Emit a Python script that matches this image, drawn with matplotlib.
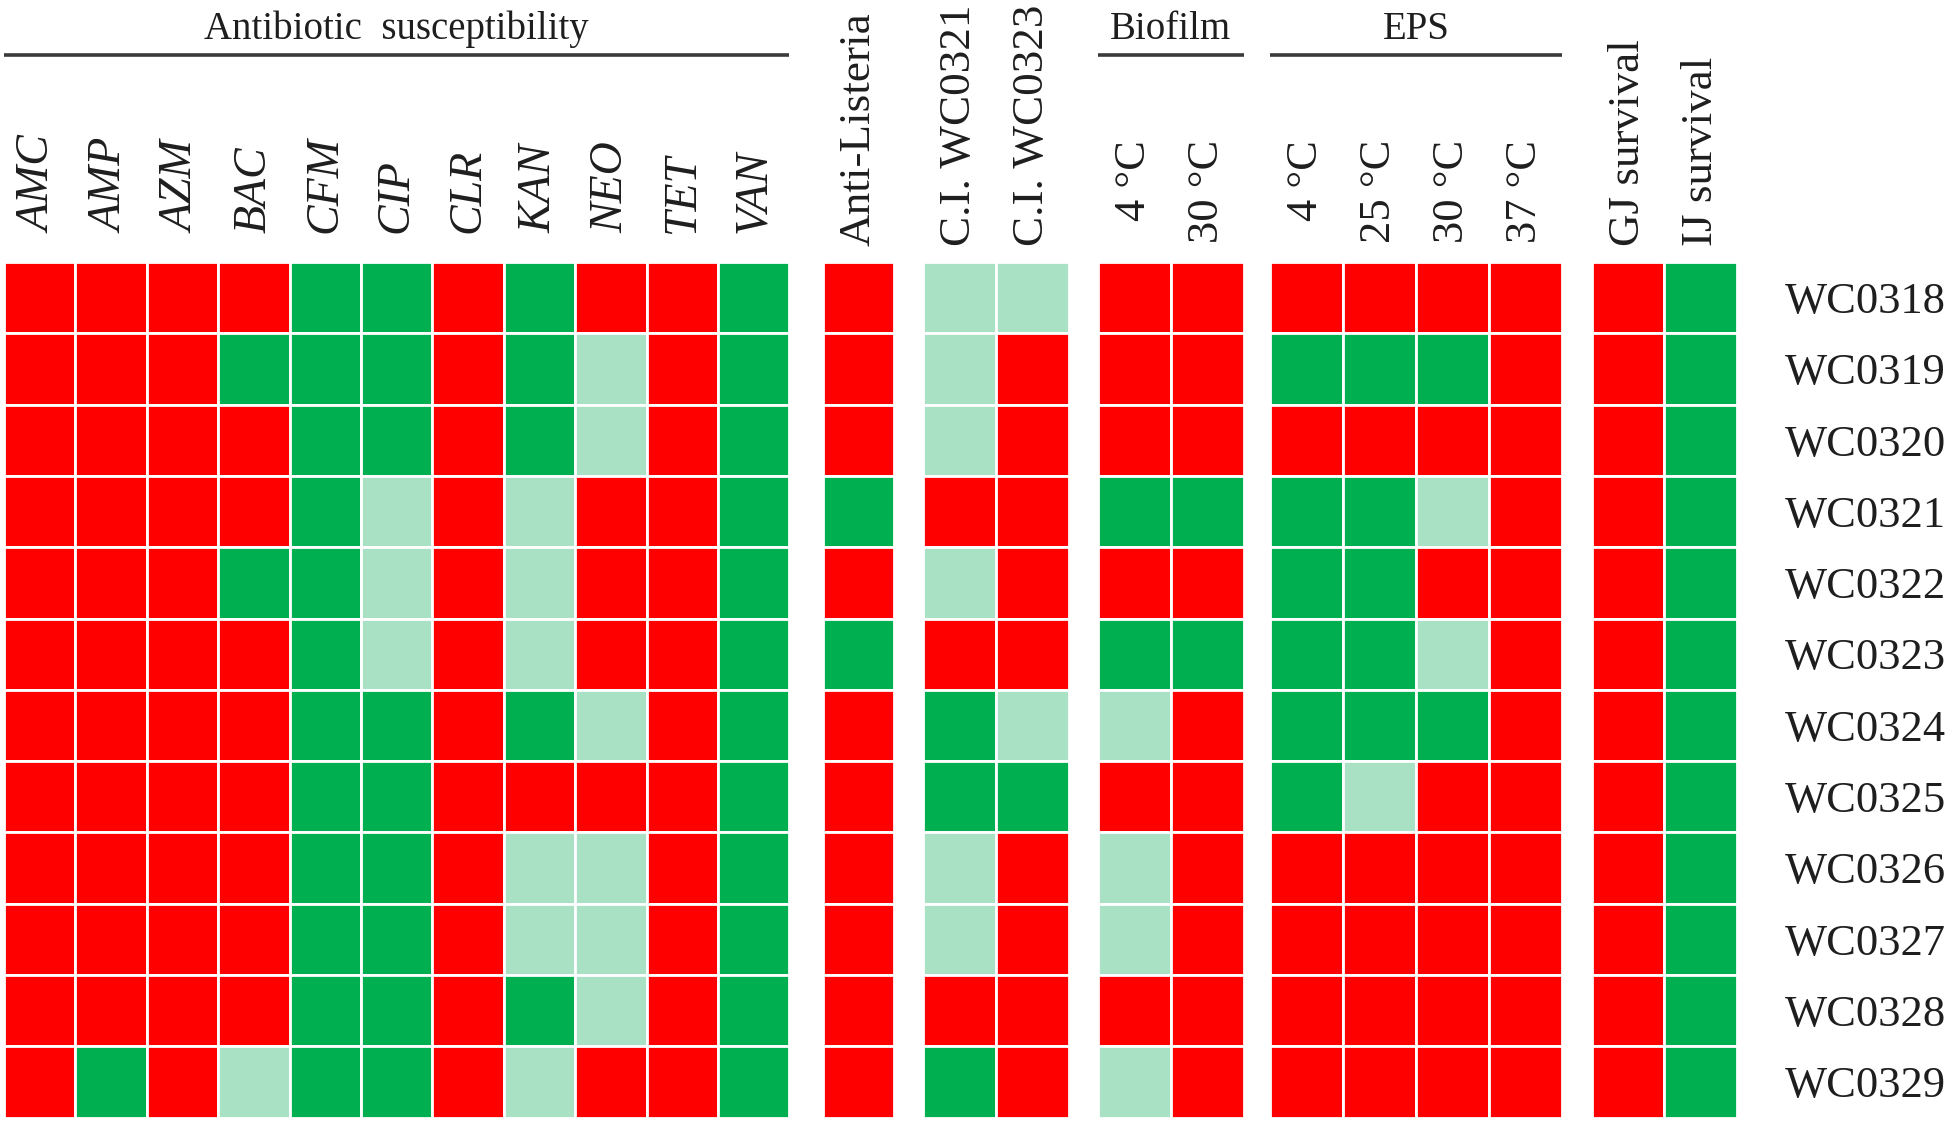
import matplotlib.pyplot as plt
from matplotlib.patches import Rectangle

plt.rcParams['font.family'] = ['Liberation Serif', 'DejaVu Serif']

# strains (rows, top to bottom)
strains = ['WC0318', 'WC0319', 'WC0320', 'WC0321', 'WC0322', 'WC0323',
           'WC0324', 'WC0325', 'WC0326', 'WC0327', 'WC0328', 'WC0329']

# cell codes: R = red, G = green, L = light green
antibiotics = ['AMC', 'AMP', 'AZM', 'BAC', 'CFM', 'CIP', 'CLR', 'KAN', 'NEO', 'TET', 'VAN']
antibiotic_calls = ['RRRRGGRGRRG', 'RRRGGGRGLRG', 'RRRRGGRGLRG', 'RRRRGLRLRRG',
                    'RRRGGLRLRRG', 'RRRRGLRLRRG', 'RRRRGGRGLRG', 'RRRRGGRRRRG',
                    'RRRRGGRLLRG', 'RRRRGGRLLRG', 'RRRRGGRGLRG', 'RGRLGGRLRRG']

listeria_labels = ['Anti-Listeria']
listeria_calls = ['R', 'R', 'R', 'G', 'R', 'G', 'R', 'R', 'R', 'R', 'R', 'R']

ci_labels = ['C.I. WC0321', 'C.I. WC0323']
ci_calls = ['LL', 'LR', 'LR', 'RR', 'LR', 'RR', 'GL', 'GG', 'LR', 'LR', 'RR', 'GR']

biofilm_labels = ['4 °C', '30 °C']
biofilm_calls = ['RR', 'RR', 'RR', 'GG', 'RR', 'GG', 'LR', 'RR', 'LR', 'LR', 'RR', 'LR']

eps_labels = ['4 °C', '25 °C', '30 °C', '37 °C']
eps_calls = ['RRRR', 'GGGR', 'RRRR', 'GGLR', 'GGRR', 'GGLR',
             'GGGR', 'GLRR', 'RRRR', 'RRRR', 'RRRR', 'RRRR']

survival_labels = ['GJ survival', 'IJ survival']
survival_calls = ['RG', 'RG', 'RG', 'RG', 'RG', 'RG', 'RG', 'RG', 'RG', 'RG', 'RG', 'RG']

colors = {'R': '#FF0000', 'G': '#00B050', 'L': '#A9E1C5'}
text_color = '#1e1e1e'
line_color = '#3a3a3a'

# layout in pixels of the 1950x1122 output
W, H = 1950, 1122
x0, y0 = 4, 262          # top-left corner of the grid
ux, uy = 71.4, 71.3      # cell size

fig = plt.figure(figsize=(W / 100, H / 100), dpi=100)
ax = fig.add_axes([0, 0, 1, 1])
ax.set_xlim(-x0 / ux, (W - x0) / ux)
ax.set_ylim((H - y0) / uy, -y0 / uy)
ax.axis('off')

# (labels, calls, start in cell units, column width, label style)
groups = [
    (antibiotics, antibiotic_calls, 0.0, 1.0, 'italic'),
    (listeria_labels, listeria_calls, 11.47, 0.995, 'plain'),
    (ci_labels, ci_calls, 12.87, 1.022, 'plain'),
    (biofilm_labels, biofilm_calls, 15.32, 1.022, 'temp'),
    (eps_labels, eps_calls, 17.73, 1.022, 'temp'),
    (survival_labels, survival_calls, 22.24, 1.015, 'plain'),
]

for labels, calls, start, cw, style in groups:
    for i, row in enumerate(calls):
        for j, code in enumerate(row):
            ax.add_patch(Rectangle((start + j * cw, i), cw, 1, facecolor=colors[code],
                                   edgecolor='white', linewidth=2))
    for j, lab in enumerate(labels):
        xc = start + (j + 0.5) * cw
        if style == 'italic':
            ax.text(xc, -0.40, lab, rotation=90, ha='center', va='bottom',
                    fontsize=33, style='italic', color=text_color)
        elif style == 'temp':
            ax.text(xc, -1.71, lab, rotation=90, ha='center', va='top',
                    fontsize=32, color=text_color)
        else:
            ax.text(xc, -0.23, lab, rotation=90, ha='center', va='bottom',
                    fontsize=32.5, color=text_color)

# group headers with rules
headers = [('Antibiotic  susceptibility', 0.0, 11 * 1.0),
           ('Biofilm', 15.32, 2 * 1.022),
           ('EPS', 17.73, 4 * 1.022)]
for name, start, width in headers:
    ax.plot([start, start + width], [-2.90, -2.90], color=line_color, lw=2.6,
            solid_capstyle='butt')
    ax.text(start + width / 2, -3.26, name, ha='center', va='center',
            fontsize=28, color=text_color)

# strain labels
for i, s in enumerate(strains):
    ax.text(24.94, i + 0.56, s, ha='left', va='center', fontsize=32, color=text_color)

fig.savefig('out.png', dpi=100)
